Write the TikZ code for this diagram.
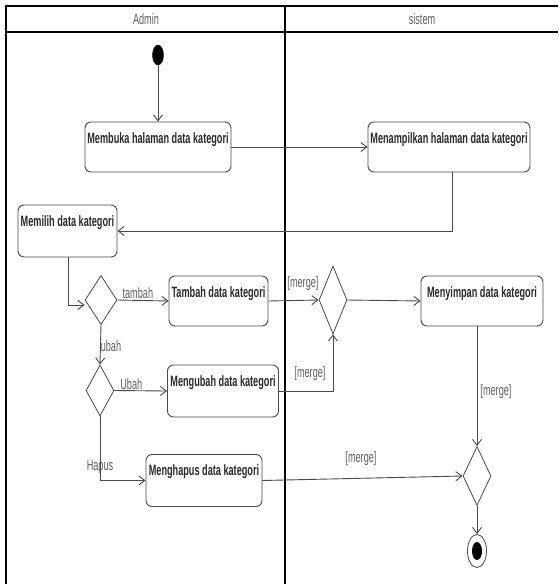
\documentclass[tikz,border=0pt]{standalone}
\usepackage{fontspec}
\setmainfont{Liberation Sans}
\newfontfamily\narrowfont[FakeStretch=0.61]{Liberation Sans}
\usetikzlibrary{arrows.meta,shapes.geometric,calc}
\definecolor{edge}{HTML}{4A4A4A}
\definecolor{lbl}{HTML}{5E5E5E}
\definecolor{btxt}{HTML}{2A2A2A}
\tikzset{
  actbox/.style={draw=edge, line width=0.9pt, rounded corners=6pt, fill=white,
    inner xsep=2pt, inner ysep=3pt, text height=18pt, text depth=26pt,
    font=\narrowfont\fontsize{15}{17}\selectfont\bfseries, text=btxt},
  dec/.style={draw=edge, line width=0.8pt, diamond, inner sep=0pt, fill=white},
  flow/.style={draw=edge, line width=0.9pt, -{Straight Barb[length=6pt,width=9pt,line width=0.9pt]}},
  glabel/.style={font=\narrowfont\fontsize{15}{17}\selectfont, text=lbl, inner sep=1pt},
  hdr/.style={font=\narrowfont\fontsize{15}{17}\selectfont, text=lbl},
  frame/.style={draw=black, line width=1.8pt}
}
\begin{document}
\begin{tikzpicture}[x=1pt,y=-1pt]
\useasboundingbox (0,0) rectangle (558,584);
% swimlane frame
\draw[frame] (6,584) -- (6,6) -- (558,6);
\draw[frame] (6,32) -- (558,32);
\draw[frame] (285,6) -- (285,584);
\node[hdr] (hAdmin) at (146,19) {Admin};
\node[hdr] (hSistem) at (422,19) {sistem};

% start
\node[draw=black, fill=black, ellipse, minimum width=11pt, minimum height=20pt, inner sep=0pt] (start) at (158,55) {};

% activities
\node[actbox, minimum width=146pt] (membuka) at (158,147) {Membuka halaman data kategori};
\node[actbox, minimum width=162pt] (menampilkan) at (449,147) {Menampilkan halaman data kategori};
\node[actbox, minimum width=99pt, text depth=28pt] (memilih) at (67.5,231) {Memilih data kategori};
\node[actbox, minimum width=99pt] (tambah) at (218.5,301) {Tambah data kategori};
\node[actbox, minimum width=111pt, text depth=28pt] (mengubah) at (223,391) {Mengubah data kategori};
\node[actbox, minimum width=116pt, text depth=28pt] (menghapus) at (204,480.5) {Menghapus data kategori};
\node[actbox, minimum width=122pt] (menyimpan) at (482,301) {Menyimpan data kategori};

% decisions / merges
\node[dec, minimum width=32pt, minimum height=49pt] (d1) at (101,300) {};
\node[dec, minimum width=28pt, minimum height=51pt] (d2) at (100,390.5) {};
\node[dec, minimum width=28pt, minimum height=68pt] (m1) at (333,300) {};
\node[dec, minimum width=28pt, minimum height=59pt] (m2) at (477,476) {};

% final
\node[draw=edge, line width=0.8pt, fill=white, ellipse, minimum width=19pt, minimum height=33pt, inner sep=0pt] (final) at (477,551) {};
\node[fill=black, ellipse, minimum width=10pt, minimum height=18pt, inner sep=0pt] (finalin) at (final.center) {};

% connectors
\draw[flow] (start.south) -- (membuka.north);
\draw[flow] (membuka.east) -- (menampilkan.west);
\coordinate (c1) at (452,231);
\draw[flow] (menampilkan.south -| c1) -- (c1) -- (memilih.east);
\coordinate (c2) at (68,305);
\draw[flow] (memilih.south -| c2) -- (c2) -- (c2 -| d1.west);
\draw[flow] (d1.east) -- node[glabel, above, pos=0.4] (ltambah) {tambah} (tambah.west);
\draw[flow] (d1.south) -- (d2.north);
\node[glabel] (lubah) at (111,346) {ubah};
\draw[flow] (d2.east) -- node[glabel, above, pos=0.32] (lUbah) {Ubah} (mengubah.west);
\coordinate (c3) at (d2.south |- menghapus.west);
\draw[flow] (d2.south) -- (c3) -- (menghapus.west);
\node[glabel] (lhapus) at (100,467) {Hapus};
\draw[flow] (tambah.east) -- (m1.west);
\node[glabel] (lm1) at (303,284) {[merge]};
\coordinate (c4) at (m1.south |- mengubah.east);
\draw[flow] (mengubah.east) -- (c4) -- (m1.south);
\node[glabel] (lm2) at (310,374) {[merge]};
\draw[flow] (m1.east) -- (menyimpan.west);
\coordinate (c5) at (477,326);
\draw[flow] (c5) -- (m2.north);
\node[glabel] (lm3) at (496,392) {[merge]};
\draw[flow] (menghapus.east) -- (m2.west);
\node[glabel] (lm4) at (361,459) {[merge]};
\draw[flow] (m2.south) -- (final.north);
\end{tikzpicture}
\end{document}
